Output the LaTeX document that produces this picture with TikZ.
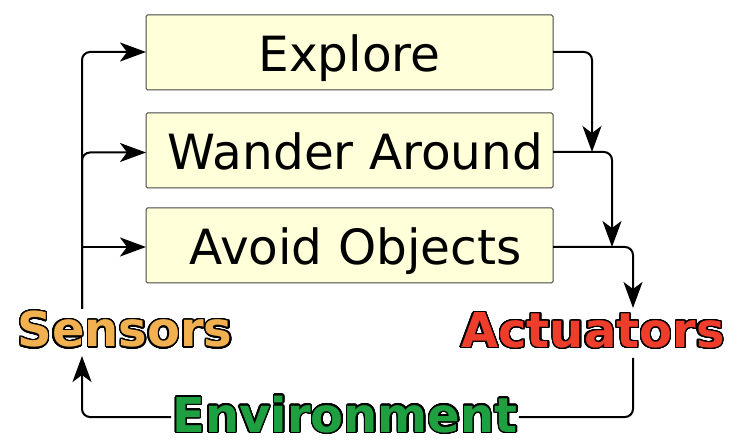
\documentclass[tikz,border=0pt]{standalone}
\usepackage{fontspec}
\setmainfont{DejaVu Sans}
\usepackage{contour}
\contournumber{32}
\contourlength{1.4pt}
\usetikzlibrary{arrows.meta,calc}
\definecolor{boxfill}{HTML}{FFFFDA}
\definecolor{boxline}{HTML}{444444}
\definecolor{sensc}{HTML}{F2B150}
\definecolor{actc}{HTML}{EE3D2B}
\definecolor{envc}{HTML}{1FA040}
\tikzset{
  box/.style={draw=boxline, fill=boxfill, line width=1pt, rounded corners=1.5pt,
    minimum width=407pt, minimum height=75pt, inner sep=0pt,
    text height=44.5pt, text depth=5.5pt,
    font=\fontsize{48.5}{52}\selectfont},
  lbl/.style={inner sep=1pt, font=\fontsize{48}{52}\selectfont\bfseries},
  conn/.style={line width=2pt, rounded corners=8pt},
  arr/.style={conn, -{Stealth[length=26pt,width=19pt,inset=7pt]}}
}
\begin{document}
\begin{tikzpicture}[x=1pt,y=-1pt]
\useasboundingbox (0,0) rectangle (742,446);
\node[box] (e) at (349.5,52.5) {Explore};
\node[box] (w) at (349.5,150.5) {\hspace{12pt}Wander Around};
\node[box] (a) at (349.5,245.5) {\hspace{12pt}Avoid Objects};
\node[lbl] (sens) at (125,330) {\contour{black}{\textcolor{sensc}{Sensors}}};
\node[lbl] (act) at (593,331) {\contour{black}{\textcolor{actc}{Actuators}}};
\node[lbl] (env) at (345,415) {\contour{black}{\textcolor{envc}{Environment}}};
% coordinates
\coordinate (lbot) at (82,309);
\coordinate (stip) at (82,356);
\coordinate (ein) at (146,52);
\coordinate (win) at (146,152.5);
\coordinate (ain) at (146,247);
\coordinate (abr) at (82,247);
\coordinate (eout) at (553,52);
\coordinate (wout) at (553,152);
\coordinate (aout) at (553,247);
\coordinate (r1) at (592,152);
\coordinate (r2) at (612,247);
\coordinate (r3) at (633,308);
\coordinate (abot) at (633,358);
\coordinate (envr) at (env.east |- 0,417);
\coordinate (envl) at (env.west |- 0,417);
% left side
\draw[arr] (lbot) |- (ein);
\draw[arr] (lbot) |- (win);
\draw[arr] (abr) -- (ain);
% right side
\draw[arr] (eout) -| (r1);
\draw[arr] (wout) -| (r2);
\draw[arr] (aout) -| (r3);
% bottom loop
\draw[conn] (abot) |- (envr);
\draw[arr] (envl) -| (stip);
\end{tikzpicture}
\end{document}
